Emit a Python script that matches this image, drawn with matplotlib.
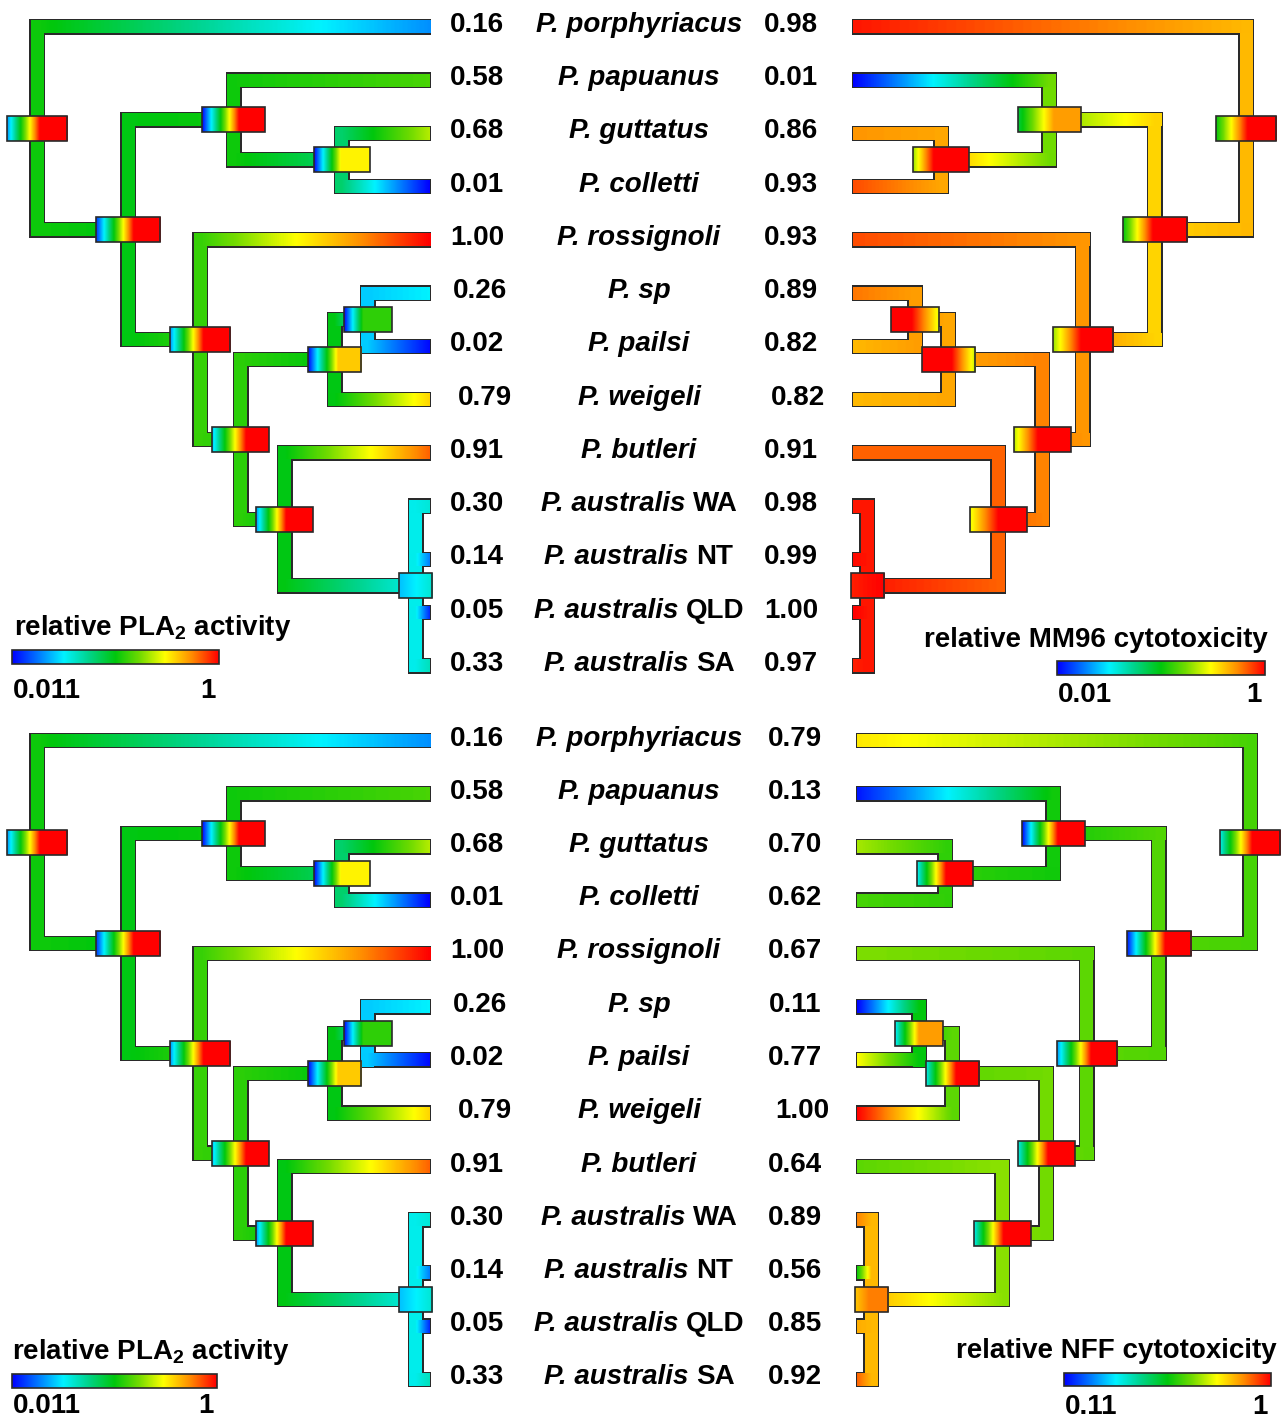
import numpy as np
import matplotlib
matplotlib.use("Agg")
import matplotlib.pyplot as plt
from matplotlib.colors import LinearSegmentedColormap, Normalize
from matplotlib.patches import Rectangle

plt.rcParams["font.family"] = ["Liberation Sans", "DejaVu Sans"]
plt.rcParams["mathtext.fontset"] = "custom"
plt.rcParams["mathtext.rm"] = "Liberation Sans:bold"
plt.rcParams["mathtext.bf"] = "Liberation Sans:bold"
plt.rcParams["mathtext.it"] = "Liberation Sans:bold:italic"

# ---------------- data ----------------
species_genus = ["P. porphyriacus", "P. papuanus", "P. guttatus", "P. colletti",
                 "P. rossignoli", "P. sp", "P. pailsi", "P. weigeli", "P. butleri",
                 "P. australis", "P. australis", "P. australis", "P. australis"]
species_suffix = ["", "", "", "", "", "", "", "", "", "WA", "NT", "QLD", "SA"]

pla2 = [0.16, 0.58, 0.68, 0.01, 1.00, 0.26, 0.02, 0.79, 0.91, 0.30, 0.14, 0.05, 0.33]
mm96 = [0.98, 0.01, 0.86, 0.93, 0.93, 0.89, 0.82, 0.82, 0.91, 0.98, 0.99, 1.00, 0.97]
nff = [0.79, 0.13, 0.70, 0.62, 0.67, 0.11, 0.77, 1.00, 0.64, 0.89, 0.56, 0.85, 0.92]

pla2_range = (0.011, 1.0)
mm96_range = (0.01, 1.0)
nff_range = (0.11, 1.0)

# tree topology (tips are indices into the species lists)
node_names = ["root", "B", "C", "E", "D", "F", "G", "I", "H", "J"]
node_children = {
    "root": [0, "B"],
    "B": ["C", "D"],
    "C": [1, "E"],
    "E": [2, 3],
    "D": [4, "F"],
    "F": ["G", "H"],
    "G": ["I", 7],
    "I": [5, 6],
    "H": [8, "J"],
    "J": [9, 10, 11, 12],
}
# relative node ages (root = 1) and node-age interval widths
node_age = [1.000, 0.768, 0.499, 0.224, 0.585, 0.481, 0.242, 0.158, 0.369, 0.036]
node_hpd = [0.155, 0.163, 0.160, 0.142, 0.153, 0.145, 0.135, 0.122, 0.145, 0.084]

# reconstructed ancestral values at internal nodes
pla2_nodes = [0.52, 0.50, 0.52, 0.41, 0.56, 0.55, 0.50, 0.22, 0.50, 0.28]
mm96_nodes = [0.82, 0.79, 0.62, 0.84, 0.86, 0.88, 0.84, 0.85, 0.91, 0.98]
nff_nodes = [0.62, 0.63, 0.57, 0.60, 0.64, 0.66, 0.64, 0.555, 0.68, 0.84]

# node bar colour ramps (colour-scale position a -> b between fractions pa -> pb)
pla2_bars = [(0.15, 1.0, 0.0, 0.54), (0.05, 1.0, 0.0, 0.58), (0.0, 1.0, 0.0, 0.59),
             (0.0, 0.75, 0.0, 0.48), (0.15, 1.0, 0.0, 0.55), (0.2, 1.0, 0.0, 0.60),
             (0.0, 0.80, 0.0, 0.56), (0.0, 0.55, 0.0, 0.40), (0.15, 1.0, 0.0, 0.53),
             (0.2, 0.30, 0.0, 1.0)]
mm96_bars = [(0.5, 1.0, 0.0, 0.52), (0.5, 1.0, 0.0, 0.46), (0.45, 0.85, 0.0, 0.57),
             (0.65, 1.0, 0.0, 0.37), (0.65, 1.0, 0.0, 0.46), (0.68, 1.0, 0.0, 0.42),
             (1.0, 0.68, 0.55, 1.0), (1.0, 0.72, 0.43, 1.0), (0.72, 1.0, 0.0, 0.50),
             (0.97, 1.0, 0.0, 1.0)]
nff_bars = [(0.27, 1.0, 0.0, 0.53), (0.02, 1.0, 0.0, 0.59), (0.0, 1.0, 0.0, 0.57),
            (0.25, 1.0, 0.0, 0.52), (0.15, 1.0, 0.0, 0.56), (0.27, 1.0, 0.0, 0.53),
            (0.27, 1.0, 0.0, 0.56), (0.25, 0.85, 0.0, 0.50), (0.27, 1.0, 0.0, 0.52),
            (0.80, 0.88, 0.0, 0.40)]

legend_titles = ["relative PLA$_\\mathrm{2}$ activity", "relative MM96 cytotoxicity",
                 "relative PLA$_\\mathrm{2}$ activity", "relative NFF cytotoxicity"]
legend_low = ["0.011", "0.01", "0.011", "0.11"]
legend_high = ["1", "1", "1", "1"]

# ---------------- style / layout ----------------
cmap = LinearSegmentedColormap.from_list("contmap", [
    (0.00, (0.00, 0.00, 1.00)),
    (0.12, (0.00, 0.45, 1.00)),
    (0.25, (0.00, 0.95, 1.00)),
    (0.37, (0.00, 0.83, 0.55)),
    (0.50, (0.00, 0.78, 0.05)),
    (0.62, (0.45, 0.86, 0.00)),
    (0.74, (1.00, 1.00, 0.00)),
    (0.87, (1.00, 0.55, 0.00)),
    (1.00, (1.00, 0.00, 0.00)),
])
EDGE = "#2a2a2a"
H = 13.0      # branch thickness
OL = 1.3      # outline thickness
BH = 25.0     # node bar height
SCALE = 393.0
DY = 53.25
FS = 20.0

# small horizontal nudges of the value labels (layout only)
left_nudge = [0, 0, 0, 0, 0, 3, 0, 8, 0, 0, 0, 0, 0]
right_nudge = [0, 0, 0, 0, 0, 0, 0, 7, 0, 0, 0, 0, 0]

fig = plt.figure(figsize=(12.84, 14.18), dpi=100)
ax = fig.add_axes([0, 0, 1, 1])
ax.set_xlim(0, 1284)
ax.set_ylim(1418, 0)
ax.axis("off")
renderer = fig.canvas.get_renderer()

age = dict(zip(node_names, node_age))
hpd = dict(zip(node_names, node_hpd))


def layout(y0):
    tip_y = y0 + DY * np.arange(len(pla2))
    node_y = {}

    def gety(c):
        if isinstance(c, int):
            return tip_y[c]
        if c not in node_y:
            node_y[c] = np.mean([gety(k) for k in node_children[c]])
        return node_y[c]
    gety("root")
    return tip_y, node_y


def draw_tree(tip_x, sgn, y0, tip_vals, node_vals, vrange, bars):
    norm = Normalize(*vrange)
    tip_y, node_y = layout(y0)
    val = dict(zip(node_names, node_vals))

    def pos(c):
        if isinstance(c, int):
            return tip_x, tip_y[c], tip_vals[c]
        return tip_x - sgn * age[c] * SCALE, node_y[c], val[c]

    rects = []
    for n in node_names:
        xn, yn, vn = pos(n)
        ys = [pos(c)[1] for c in node_children[n]]
        rects.append(("v", xn - H / 2, xn + H / 2, min(ys) - H / 2, max(ys) + H / 2, vn))
        for c in node_children[n]:
            xc, yc, vc = pos(c)
            xa = xn - sgn * H / 2
            rects.append(("h", min(xa, xc), max(xa, xc), yc - H / 2, yc + H / 2, (xn, xc, vn, vc)))
    for r in rects:
        ax.add_patch(Rectangle((r[1] - OL, r[3] - OL), r[2] - r[1] + 2 * OL,
                               r[4] - r[3] + 2 * OL, fc=EDGE, ec="none", zorder=1))
    for r in rects:
        if r[0] == "v":
            ax.add_patch(Rectangle((r[1], r[3]), r[2] - r[1], r[4] - r[3],
                                   fc=cmap(np.clip(norm(r[5]), 0, 1)), ec="none", zorder=2))
        else:
            xn, xc, vn, vc = r[5]
            xs = np.linspace(r[1], r[2], 240)
            if xn < xc:
                vs = np.interp(xs, [xn, xc], [vn, vc])
            else:
                vs = np.interp(xs, [xc, xn], [vc, vn])
            img = cmap(np.clip(norm(vs), 0, 1))[None, :, :]
            ax.imshow(img, extent=(r[1], r[2], r[4], r[3]), aspect="auto",
                      interpolation="bilinear", zorder=2)
    # node bars
    for n, (va, vb, pa, pb) in zip(node_names, bars):
        xn, yn, _ = pos(n)
        w = hpd[n] * SCALE
        x0 = xn - w / 2
        fr = np.linspace(0, 1, 240)
        t = np.interp(fr, [pa, pb], [va, vb])
        img = cmap(np.clip(t, 0, 1))[None, :, :]
        ax.imshow(img, extent=(x0, x0 + w, yn + BH / 2, yn - BH / 2), aspect="auto",
                  interpolation="bilinear", zorder=4)
        ax.add_patch(Rectangle((x0, yn - BH / 2), w, BH, fill=False, ec=EDGE, lw=1.2, zorder=5))
    return tip_y


def colorbar(x0, x1, y0, y1, title, low, high, title_x, title_y, title_ha, lab_y):
    grad = cmap(np.linspace(0, 1, 256))[None, :, :]
    ax.imshow(grad, extent=(x0, x1, y1, y0), aspect="auto", interpolation="bilinear", zorder=4)
    ax.add_patch(Rectangle((x0, y0), x1 - x0, y1 - y0, fill=False, ec=EDGE, lw=1.2, zorder=5))
    ax.text(title_x, title_y, title, fontsize=FS, fontweight="bold", ha=title_ha,
            va="baseline", zorder=6)
    ax.text(x0 + 1, lab_y, low, fontsize=FS, fontweight="bold", ha="left", va="baseline")
    ax.text(x1 - 3, lab_y, high, fontsize=FS, fontweight="bold", ha="right", va="baseline")


def species_label(xc, base, genus, suffix):
    if not suffix:
        ax.text(xc, base, genus, fontsize=FS, fontweight="bold", fontstyle="italic",
                ha="center", va="baseline")
        return
    t1 = ax.text(0, base, genus + " ", fontsize=FS, fontweight="bold", fontstyle="italic",
                 ha="left", va="baseline")
    t2 = ax.text(0, base, suffix, fontsize=FS, fontweight="bold", ha="left", va="baseline")
    w1 = t1.get_window_extent(renderer).width
    w2 = t2.get_window_extent(renderer).width
    x0 = xc - (w1 + w2) / 2
    t1.set_x(x0)
    t2.set_x(x0 + w1)


panels = [
    dict(y0=26.8, right_tip=853, right_vals=mm96, right_nodes=mm96_nodes, rrange=mm96_range,
         rbars=mm96_bars, rx=791),
    dict(y0=740.5, right_tip=857, right_vals=nff, right_nodes=nff_nodes, rrange=nff_range,
         rbars=nff_bars, rx=795),
]
for p in panels:
    tip_y = draw_tree(430, +1, p["y0"], pla2, pla2_nodes, pla2_range, pla2_bars)
    draw_tree(p["right_tip"], -1, p["y0"], p["right_vals"], p["right_nodes"], p["rrange"], p["rbars"])
    for i, ty in enumerate(tip_y):
        base = ty + 5
        ax.text(477 + left_nudge[i], base, f"{pla2[i]:.2f}", fontsize=FS, fontweight="bold",
                ha="center", va="baseline")
        ax.text(p["rx"] + right_nudge[i], base, f"{p['right_vals'][i]:.2f}", fontsize=FS,
                fontweight="bold", ha="center", va="baseline")
        species_label(639, base, species_genus[i], species_suffix[i])

colorbar(12, 219, 650, 664, legend_titles[0], legend_low[0], legend_high[0], 14, 635, "left", 698)
colorbar(1057, 1265, 661, 675, legend_titles[1], legend_low[1], legend_high[1], 1268, 647, "right", 702)
colorbar(12, 217, 1374, 1388, legend_titles[2], legend_low[2], legend_high[2], 12, 1359, "left", 1413)
colorbar(1064, 1271, 1373, 1386, legend_titles[3], legend_low[3], legend_high[3], 1277, 1358, "right", 1414)

fig.savefig("out.png", dpi=100)
